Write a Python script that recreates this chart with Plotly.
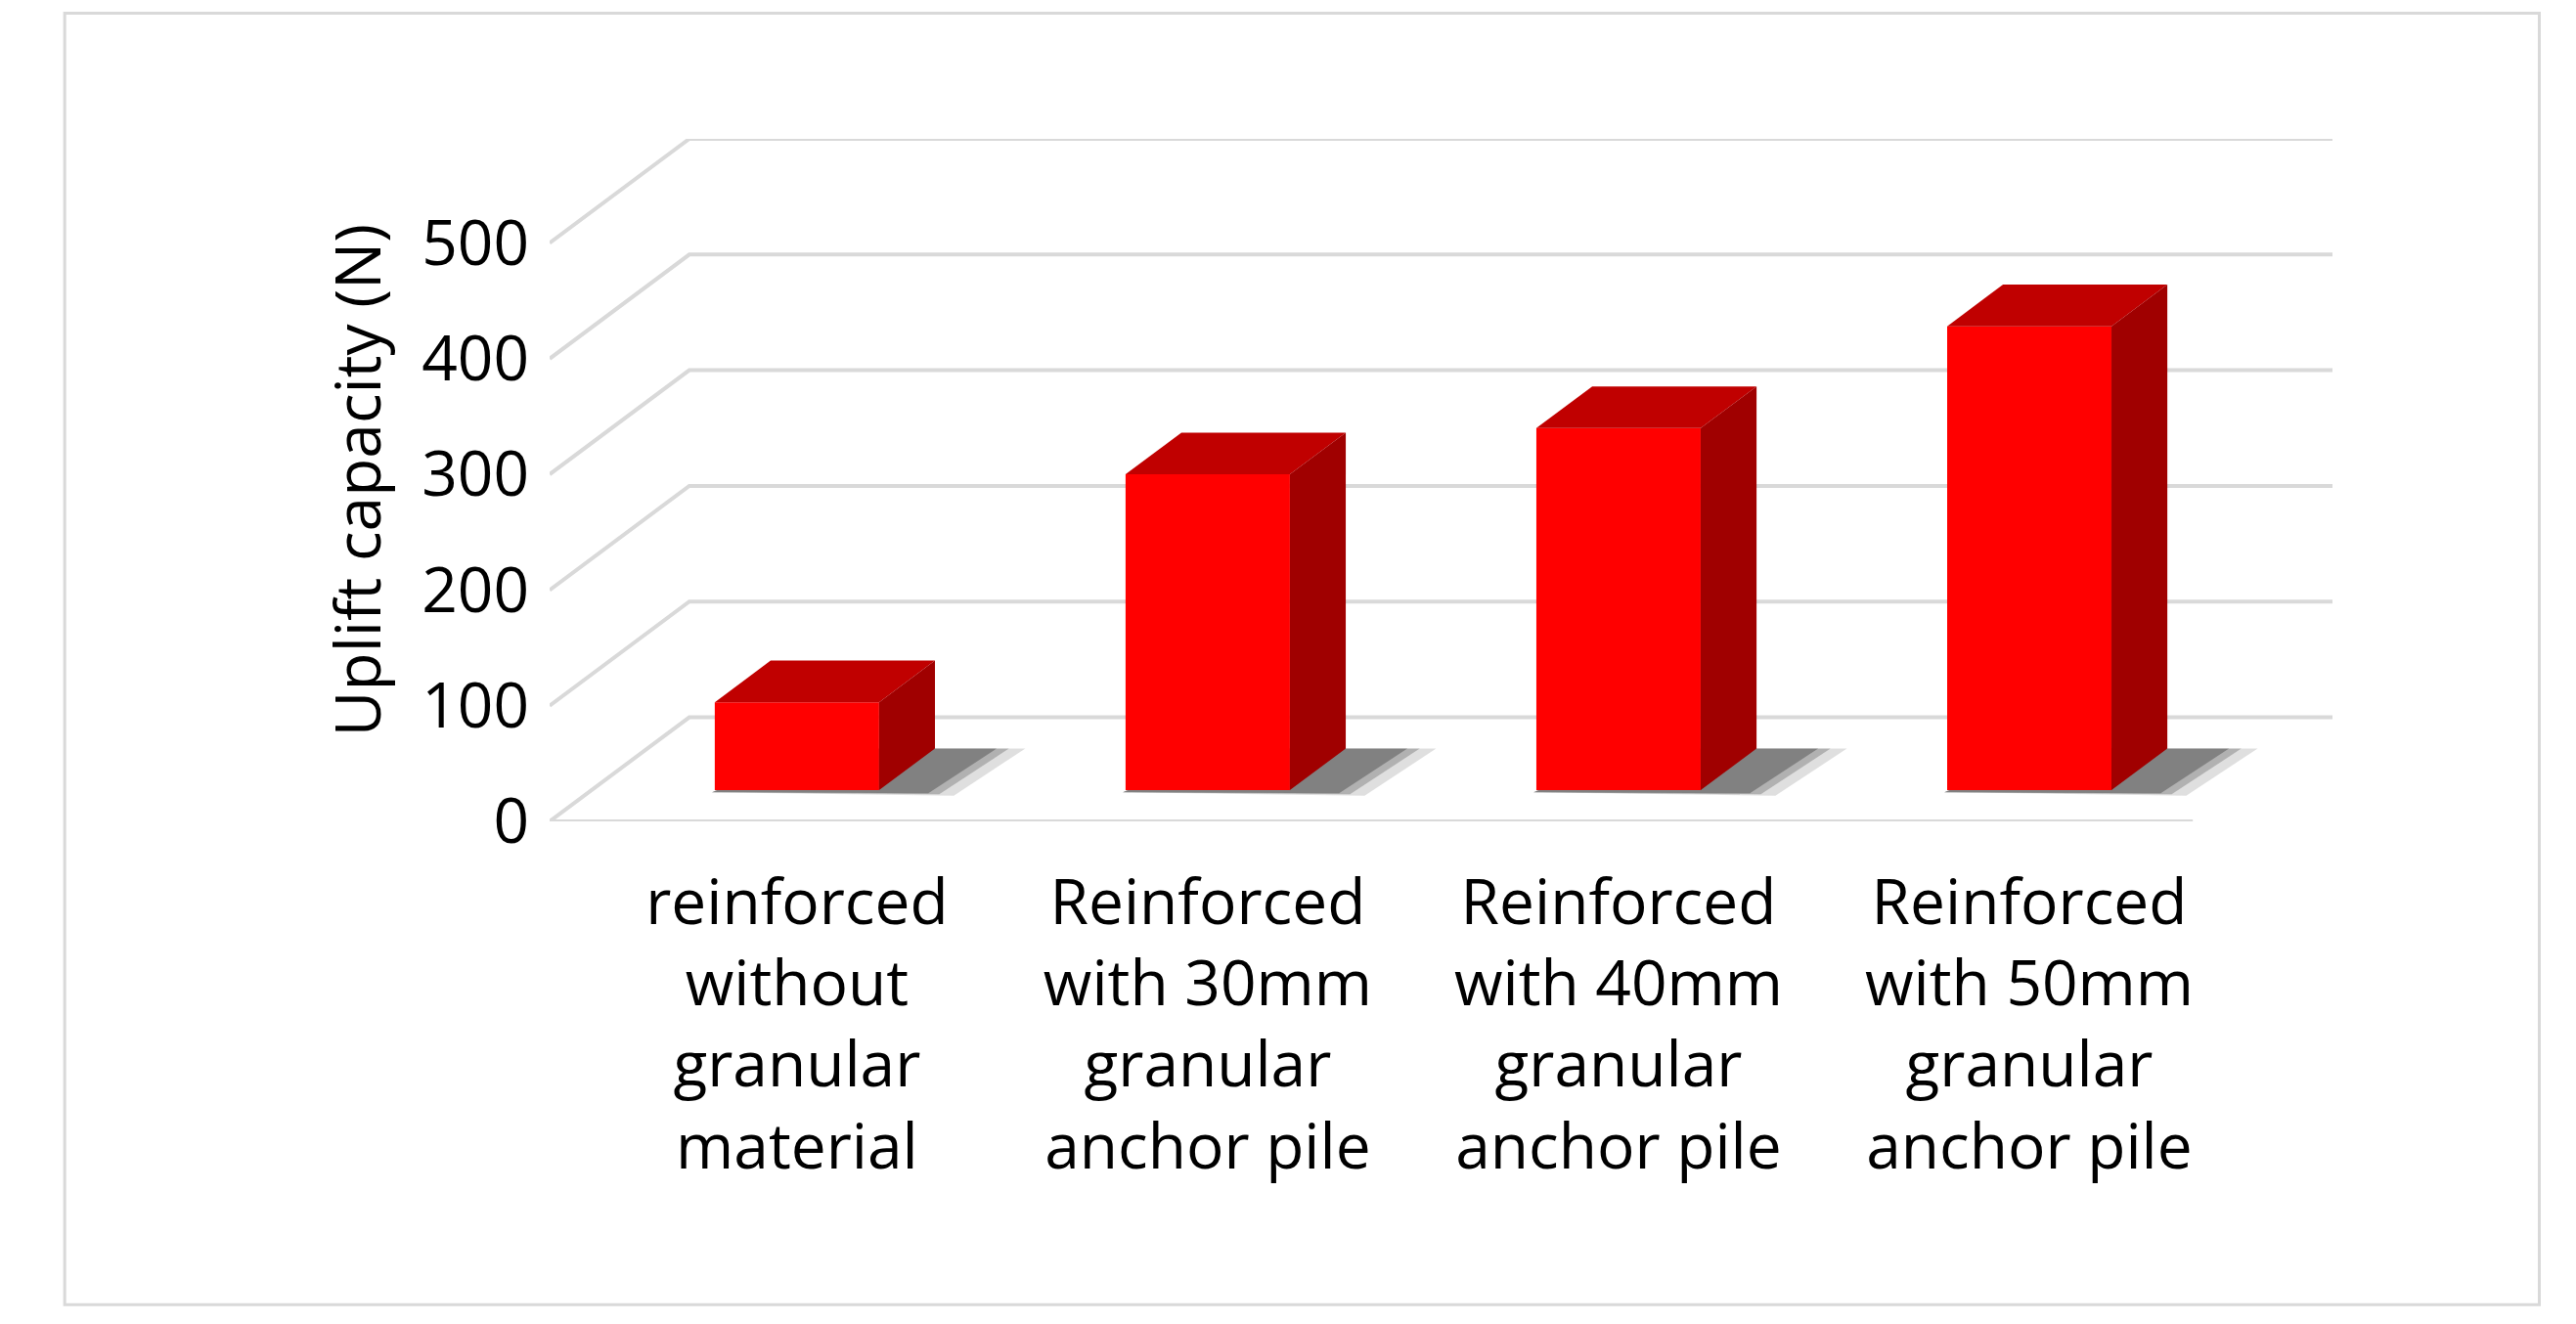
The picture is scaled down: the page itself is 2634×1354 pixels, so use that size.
import plotly.graph_objects as go

categories = ["reinforced<br>without<br>granular<br>material",
              "Reinforced<br>with 30mm<br>granular<br>anchor pile",
              "Reinforced<br>with 40mm<br>granular<br>anchor pile",
              "Reinforced<br>with 50mm<br>granular<br>anchor pile"]
values = [76, 273, 313, 401]
tick_vals = [0, 100, 200, 300, 400, 500]

DX, DY = 0.34, 90.0   # oblique offset for full depth
D0, D1 = 0.3, 0.7     # bar front / back depth
HW = 0.2              # half bar width

def P(c, v, d):
    return c + DX * d, v + DY * d

def poly(fig, pts, color):
    fig.add_trace(go.Scatter(x=[p[0] for p in pts], y=[p[1] for p in pts], fill="toself", mode="lines",
                             line=dict(width=0), fillcolor=color, hoverinfo="skip", showlegend=False))

fig = go.Figure()
grid = dict(color="#D9D9D9", width=4)
for v in tick_vals:
    pts = [P(-0.5, v, 0), P(-0.5, v, 1), P(3.5, v, 1)]
    if v == 0:
        pts = [P(3.5, 0, 0)] + [P(-0.5, 0, 0)] + pts[1:]
    fig.add_trace(go.Scatter(x=[p[0] for p in pts], y=[p[1] for p in pts], mode="lines",
                             line=grid, hoverinfo="skip", showlegend=False))

for i, v in enumerate(values):
    # soft shadow layers
    for k, a in [(0.10, 0.15), (0.06, 0.25), (0.03, 0.35)]:
        s = [P(i - HW, 0, D0 - 0.02), P(i + HW + 0.1 + k, 0, D0 - 0.02 - k / 3),
             P(i + HW + 0.12 + k, 0, D1), P(i - HW + 0.1, 0, D1)]
        poly(fig, s, f"rgba(40,40,40,{a})")

for i, v in enumerate(values):
    front = [P(i - HW, 0, D0), P(i + HW, 0, D0), P(i + HW, v, D0), P(i - HW, v, D0)]
    top = [P(i - HW, v, D0), P(i + HW, v, D0), P(i + HW, v, D1), P(i - HW, v, D1)]
    side = [P(i + HW, 0, D0), P(i + HW, v, D0), P(i + HW, v, D1), P(i + HW, 0, D1)]
    poly(fig, front, "#FF0000")
    poly(fig, top, "#C00000")
    poly(fig, side, "#A00000")

fnt = dict(family="Open Sans, Liberation Sans, sans-serif", size=64, color="#000000")
fig.update_layout(
    width=2634, height=1354, paper_bgcolor="white", plot_bgcolor="white",
    margin=dict(l=554, r=257, t=134, b=522), font=fnt,
    xaxis=dict(range=[-0.5, 3.5 + DX], tickvals=[P(i, 0, D0)[0] for i in range(4)], ticktext=categories,
               showgrid=False, zeroline=False, showline=False, ticks="", tickfont=fnt, ticklabelstandoff=40),
    yaxis=dict(range=[0, 500 + DY], tickvals=tick_vals, showgrid=False, zeroline=False, showline=False,
               ticks="", tickfont=fnt, ticklabelstandoff=20,
               title=dict(text="Uplift capacity (N)", font=fnt, standoff=20)),
    shapes=[dict(type="rect", xref="paper", yref="paper", x0=-0.272, x1=1.116, y0=-0.708, y1=1.184,
                 line=dict(color="#D9D9D9", width=3))],
)
fig.write_html("out.html")
